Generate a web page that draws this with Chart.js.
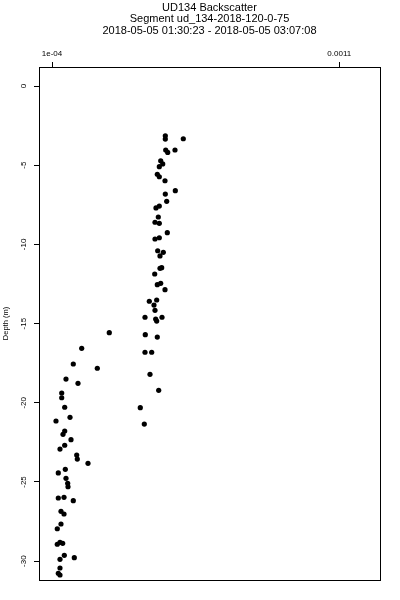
<!DOCTYPE html>
<html>
<head>
<meta charset="utf-8">
<script src="https://cdn.jsdelivr.net/npm/chart.js@4"></script>
<style>
  html, body { margin: 0; padding: 0; background: #fff; }
  canvas { display: block; }
</style>
</head>
<body>
<canvas id="chart" width="400" height="600"></canvas>
<script>
// titre
const titleLines = ['UD134 Backscatter', 'Segment ud_134-2018-120-0-75', '2018-05-05 01:30:23 - 2018-05-05 03:07:08'];

// profondeur (m) et backscatter
const depth = [-3.14, -3.35, -3.33, -4.04, -4.19, -4.04, -4.72, -4.92, -5.09, -5.57,
  -5.73, -5.98, -6.61, -6.82, -7.28, -7.58, -7.70, -8.27, -8.60, -8.67,
  -9.26, -9.66, -9.58, -10.40, -10.50, -10.73, -11.51, -11.47, -11.87, -12.54,
  -12.46, -12.86, -13.59, -13.51, -13.83, -14.16, -14.60, -14.71, -14.60, -14.84,
  -15.57, -15.70, -15.85, -16.81, -16.81, -18.20, -19.21, -20.31, -21.34,
  -16.56, -17.55, -17.82, -18.50, -18.77, -19.38, -19.68, -20.28, -20.92, -21.15,
  -21.78, -21.99, -22.33, -22.68, -22.92, -23.30, -23.55, -23.82, -24.43, -24.20,
  -24.77, -25.08, -25.30, -26.01, -25.97, -26.18, -26.85, -27.02, -27.65, -27.95,
  -28.81, -28.93, -28.87, -29.63, -29.88, -29.78, -30.43, -30.76, -30.87];
const backscatter = [4.944e-4, 4.944e-4, 5.570e-4, 4.958e-4, 5.027e-4, 5.281e-4, 4.784e-4, 4.853e-4, 4.735e-4, 4.665e-4,
  4.735e-4, 4.933e-4, 5.292e-4, 4.944e-4, 4.992e-4, 4.735e-4, 4.620e-4, 4.700e-4, 4.585e-4, 4.735e-4,
  5.013e-4, 4.585e-4, 4.735e-4, 4.679e-4, 4.874e-4, 4.759e-4, 4.759e-4, 4.818e-4, 4.575e-4, 4.665e-4,
  4.784e-4, 4.933e-4, 4.387e-4, 4.644e-4, 4.550e-4, 4.585e-4, 4.237e-4, 4.609e-4, 4.829e-4, 4.644e-4,
  2.994e-4, 4.247e-4, 4.665e-4, 4.237e-4, 4.470e-4, 4.411e-4, 4.714e-4, 4.073e-4, 4.213e-4,
  2.034e-4, 1.741e-4, 2.577e-4, 1.487e-4, 1.905e-4, 1.338e-4, 1.338e-4, 1.442e-4, 1.627e-4, 1.139e-4,
  1.442e-4, 1.383e-4, 1.661e-4, 1.442e-4, 1.278e-4, 1.860e-4, 1.881e-4, 2.253e-4, 1.219e-4, 1.463e-4,
  1.487e-4, 1.546e-4, 1.557e-4, 1.219e-4, 1.418e-4, 1.741e-4, 1.313e-4, 1.418e-4, 1.313e-4, 1.184e-4,
  1.278e-4, 1.184e-4, 1.372e-4, 1.428e-4, 1.278e-4, 1.776e-4, 1.278e-4, 1.219e-4, 1.278e-4];

// graduations
const xTicks = [0.0001, 0.0011];
const xTickLabels = ['1e-04', '0.0011'];
const yTicks = [0, -5, -10, -15, -20, -25, -30];
const yTitle = 'Depth (m)';

Chart.defaults.font.family = '"Liberation Sans", Arial, Helvetica, sans-serif';
Chart.defaults.color = '#000';

// cadre autour de la zone du graphe
const boxPlugin = {
  id: 'box',
  afterDraw(chart) {
    const a = chart.chartArea, ctx = chart.ctx;
    ctx.save();
    ctx.strokeStyle = '#000'; ctx.lineWidth = 1;
    ctx.strokeRect(Math.round(a.left) + 0.5, Math.round(a.top) + 0.5, Math.round(a.right - a.left), Math.round(a.bottom - a.top));
    ctx.restore();
  }
};

new Chart(document.getElementById('chart'), {
  type: 'scatter',
  data: {
    datasets: [{
      data: depth.map((d, i) => ({ x: backscatter[i], y: d })),
      backgroundColor: '#000', borderColor: '#000', borderWidth: 0,
      pointRadius: 2.6, pointHoverRadius: 2.6
    }]
  },
  options: {
    responsive: false, animation: false, devicePixelRatio: 1,
    layout: { padding: { left: 0, top: 0, right: 20, bottom: 20 } },
    plugins: {
      legend: { display: false }, tooltip: { enabled: false },
      title: { display: true, text: titleLines, fullSize: false, color: '#000',
        font: { size: 11, weight: 'normal', lineHeight: 1.05 }, padding: { top: 2, bottom: 0 } }
    },
    scales: {
      x: {
        type: 'linear', position: 'top', min: 0.00005475, max: 0.00124165,
        afterBuildTicks: s => { s.ticks = xTicks.map(v => ({ value: v })); },
        afterFit: s => { s.height = 67 - (3 * 11 * 1.05 + 2); },
        ticks: { font: { size: 8 }, padding: 3, maxRotation: 0, callback: (v, i) => xTickLabels[i] },
        grid: { drawOnChartArea: false, drawTicks: true, tickLength: 5, color: '#000' },
        border: { display: false }
      },
      y: {
        type: 'linear', position: 'left', min: -31.187, max: 1.2,
        afterBuildTicks: s => { s.ticks = yTicks.map(v => ({ value: v })); },
        afterFit: s => { s.width = 39; },
        ticks: { font: { size: 8 }, padding: 4, minRotation: 90, maxRotation: 90, crossAlign: 'center', callback: v => String(v) },
        grid: { drawOnChartArea: false, drawTicks: true, tickLength: 5, color: '#000' },
        border: { display: false },
        title: { display: true, text: yTitle, font: { size: 7.5 }, padding: { top: 1, bottom: 0 } }
      }
    }
  },
  plugins: [boxPlugin]
});
</script>
</body>
</html>
